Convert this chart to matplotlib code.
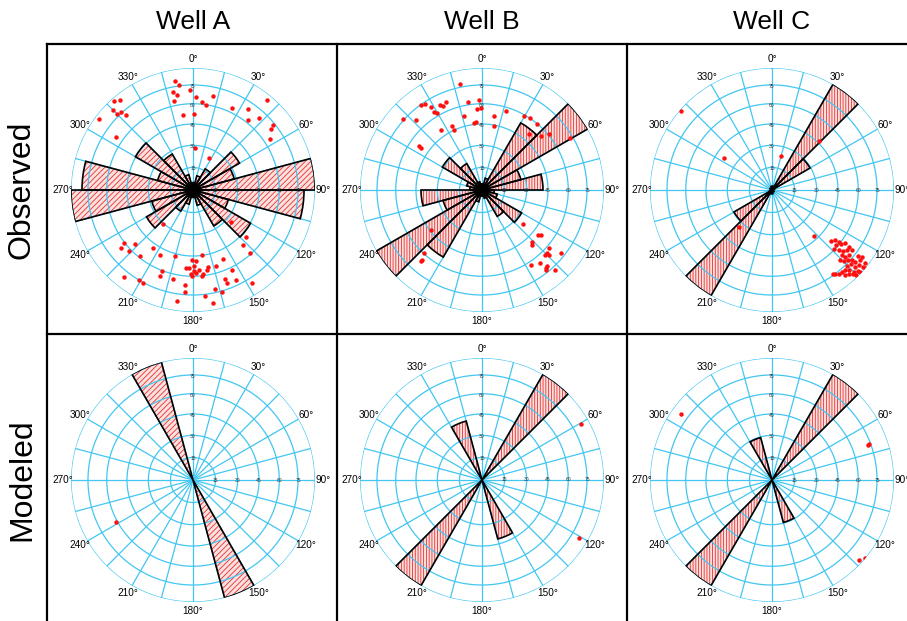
import numpy as np
import matplotlib.pyplot as plt
from matplotlib.lines import Line2D

plt.rcParams['font.family'] = ['Liberation Sans', 'DejaVu Sans']
plt.rcParams['hatch.linewidth'] = 0.6

wells = ['Well A', 'Well B', 'Well C']
rows = ['Observed', 'Modeled']

# rose bins (strike, bidirectional), 15 deg wide, radius as fraction of the net
bin_start = np.arange(0, 180, 15)
rose_A_obs = [0.06, 0.12, 0.20, 0.44, 0.35, 1.00, 0.91, 0.30, 0.545, 0.34, 0.13, 0.06]
rose_B_obs = [0.05, 0.10, 0.635, 1.00, 0.33, 0.50, 0.10, 0.13, 0.375, 0.25, 0.07, 0.05]
rose_C_obs = [0.03, 0.03, 1.00, 0.36, 0.02, 0.0, 0.0, 0.0, 0.02, 0.0, 0.0, 0.03]
rose_A_mod = [0, 0, 0, 0, 0, 0, 0, 0, 0, 0, 1.00, 0]
rose_B_mod = [0, 0, 1.00, 0, 0, 0, 0, 0, 0, 0, 0.50, 0]
rose_C_mod = [0, 0, 1.00, 0, 0, 0, 0, 0, 0, 0, 0.36, 0]

# poles: azimuth (deg) and dip (deg)
az_A_obs = [350.7, 352.4, 348.3, 350.3, 358.3, 348.1, 1.8, 5.6, 12.2, 8.8, 1.0, 352.3,
            3.2, 27.0, 25.6, 34.4, 39.7, 38.3, 42.7, 51.2, 52.2, 56.5, 318.3, 321.0,
            315.0, 315.1, 317.0, 318.4, 307.3, 304.5,
            222.0, 129.9, 132.0, 137.4, 137.9, 232.5, 230.9, 226.9, 226.5, 218.8,
            214.4, 207.1, 195.2, 171.8, 181.1, 177.6, 179.5, 184.9, 182.7, 179.5,
            175.5, 181.6, 178.2, 173.0, 174.0, 180.7, 170.3, 169.1, 163.5, 156.6,
            153.9, 160.2, 160.1, 154.6, 147.7, 167.3, 164.4, 173.4, 170.0, 188.2,
            184.8, 184.3, 192.5, 201.3, 201.1, 211.0, 208.2, 218.5]
dip_A_obs = [80, 76, 71, 68, 71, 63.5, 65, 62, 68, 60, 52, 51.7,
             28, 24, 63.7, 69, 85, 62, 69, 73.5, 70, 65, 87, 84,
             81.7, 77, 76, 71, 86, 66,
             30.5, 33.7, 48.5, 51, 59, 60.5, 64.6, 55, 62, 59,
             48, 50, 47, 45, 47.7, 49, 52, 54, 54, 56,
             55.5, 58, 57.5, 59, 60, 60, 56, 53.7, 55, 51.5,
             62.5, 66.5, 70, 70.6, 79.7, 72, 76, 76.7, 83.5, 81,
             66.7, 72.6, 63.6, 64.3, 60.5, 75, 75.7, 80]

az_B_obs = [348.3, 358.3, 351.1, 356.2, 359.3, 346.6, 355.2, 352.9, 9.4, 10.9,
            16.8, 29.4, 33.7, 39.6, 40.2, 47.7, 50.4, 59.4, 324.4, 326.6,
            328.5, 333.6, 334.8, 337.6, 328.2, 329.8, 311.9, 316.7, 325.9, 334.5,
            335.4, 304.9, 304.5,
            232.1, 222.6, 220.8, 220.6, 129.2, 128.7, 127.1, 136.5, 137.4, 130.6,
            135.7, 134.0, 133.8, 128.7, 141.7, 147.1, 139.2, 141.2, 140.8, 137.4]
dip_B_obs = [77.6, 62.7, 62, 56.5, 56.6, 52.7, 46.7, 46, 51.9, 44.7,
             57.5, 59, 60, 59.6, 50.4, 55.5, 61, 72.8, 75, 73.7,
             68.5, 66.6, 64.9, 67, 64.4, 62, 75.5, 67.5, 49.8, 48.3,
             45.3, 53, 50.7,
             44, 59.5, 65.5, 64.4, 36, 49, 51, 49.5, 51, 62,
             63, 63.6, 65.6, 72, 65.6, 62.7, 71, 73, 71.5, 77.6]

az_C_obs = [311.0, 303.8, 15.5, 43.6, 222.0, 137.4,
            130.9, 128.8, 128.0, 130.8, 128.1, 125.9, 133.6, 131.8, 130.8, 128.5,
            126.4, 127.0, 133.0, 132.4, 130.2, 136.0, 134.7, 132.8, 131.1, 127.6,
            126.7, 128.5, 128.2, 130.3, 131.0, 130.8, 133.0, 133.2, 135.1, 136.1,
            137.4, 139.5, 141.4, 143.1, 144.1, 139.6, 137.7, 136.0, 135.5, 135.5,
            133.1, 130.1, 132.9]
dip_C_obs = [89, 39, 23.4, 46.3, 33.5, 42,
             54, 55.6, 58.7, 58.7, 61.4, 63.3, 59.1, 62.5, 65.6, 67.7,
             67.8, 71.2, 67.6, 70.4, 72, 68.6, 71.7, 73.8, 75.7, 78,
             81.4, 81.9, 86.4, 87.3, 83.6, 79.4, 82, 86, 84.4, 80.7,
             77.6, 77, 76.7, 75.3, 73.5, 81, 82.8, 84.9, 88, 76.7,
             78, 89, 88.8]

az_A_mod = [241.3]
dip_A_mod = [60.9]
az_B_mod = [60.5, 120.7]
dip_B_mod = [82.7, 82]
az_C_mod = [305.8, 70.1, 69.5, 132.8, 129.8]
dip_C_mod = [81.4, 72.7, 74, 86.5, 89.5]

roses = [[rose_A_obs, rose_B_obs, rose_C_obs], [rose_A_mod, rose_B_mod, rose_C_mod]]
pole_az = [[az_A_obs, az_B_obs, az_C_obs], [az_A_mod, az_B_mod, az_C_mod]]
pole_dip = [[dip_A_obs, dip_B_obs, dip_C_obs], [dip_A_mod, dip_B_mod, dip_C_mod]]
hatches = ['//////', '||||||', '||||||']

ring_dips = [15, 30, 45, 60, 75, 90]
grid_color = '#42c6f2'


def eqarea(dip):
    # Schmidt equal-area projection, 1 at dip 90
    return np.sqrt(2) * np.sin(np.radians(np.asarray(dip, dtype=float)) / 2)


W, H = 907, 621
fig = plt.figure(figsize=(W / 100, H / 100), dpi=100)

centers_x = [193, 482, 772]
centers_y = [190, 480]
R = 122

for i in range(2):
    for j in range(3):
        cx, cy = centers_x[j], centers_y[i]
        ax = fig.add_axes([(cx - R) / W, 1 - (cy + R) / H, 2 * R / W, 2 * R / H],
                          projection='polar')
        ax.set_theta_zero_location('N')
        ax.set_theta_direction(-1)
        ax.set_ylim(0, 1)
        ax.set_xticks([])
        ax.set_yticks([])
        ax.grid(False)
        ax.spines['polar'].set_visible(False)
        ax.patch.set_alpha(0)

        # rose petals, mirrored
        vals = np.array(roses[i][j], dtype=float)
        th = np.radians(np.concatenate([bin_start, bin_start + 180]) + 7.5)
        rr = np.concatenate([vals, vals])
        keep = rr > 0
        ax.bar(th[keep], rr[keep], width=np.radians(15), bottom=0,
               facecolor='#fbe0e0', edgecolor='#e8302c', hatch=hatches[j],
               linewidth=0, zorder=1)

        # net
        tt = np.linspace(0, 2 * np.pi, 361)
        for d in ring_dips:
            ax.plot(tt, np.full_like(tt, eqarea(d)), color=grid_color, lw=0.9, zorder=2)
        for a in range(0, 360, 15):
            ax.plot([np.radians(a)] * 2, [0, 1], color=grid_color, lw=0.9, zorder=2)

        ax.bar(th[keep], rr[keep], width=np.radians(15), bottom=0,
               fill=False, edgecolor='black', linewidth=1.2, zorder=3)

        ax.plot(np.radians(pole_az[i][j]), eqarea(pole_dip[i][j]), 'o',
                color='#ff1010', ms=3.2, mec='none', zorder=4)

        for a in range(0, 360, 30):
            ax.text(np.radians(a), 1.07, f'{a}°', ha='center', va='center',
                    fontsize=7.2, zorder=5)
        for d in ring_dips[:-1]:
            ax.text(0, eqarea(d) - 0.012, str(d), ha='center', va='center',
                    fontsize=3.6, color='#333333', zorder=5)
            ax.text(np.pi / 2, eqarea(d), str(d), ha='center', va='center',
                    fontsize=3.6, color='#333333', zorder=5)

# table lines
def hline(y, x0, x1):
    fig.add_artist(Line2D([x0 / W, x1 / W], [1 - y / H, 1 - y / H], color='black', lw=1.6))


def vline(x, y0, y1):
    fig.add_artist(Line2D([x / W, x / W], [1 - y0 / H, 1 - y1 / H], color='black', lw=1.6))


hline(44, 47, W)
hline(334, 47, W)
vline(47, 44, H)
vline(337, 44, H)
vline(627, 44, H)

for j, name in enumerate(wells):
    fig.text(centers_x[j] / W, 1 - 22 / H, name, ha='center', va='center', fontsize=19)
for i, name in enumerate(rows):
    fig.text(22 / W, 1 - centers_y[i] / H, name, ha='center', va='center',
             rotation=90, fontsize=23)

fig.savefig('out.png', dpi=100)
